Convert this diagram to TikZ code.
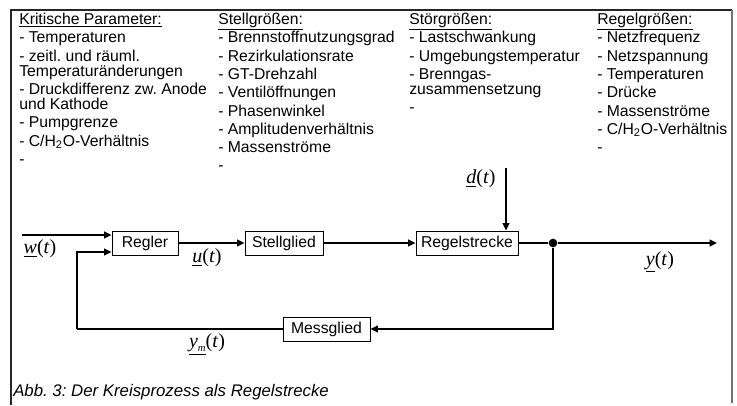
\documentclass[tikz,border=0pt]{standalone}
\usepackage{fontspec}
\setmainfont{Liberation Sans}
\newfontfamily\tms{Liberation Serif}
\usetikzlibrary{arrows.meta,calc}
\begin{document}
\frenchspacing
\begin{tikzpicture}[x=0.75pt,y=-0.75pt,
  txt/.style={anchor=base west, inner sep=0pt, font=\fontsize{11.8}{13}\selectfont},
  captxt/.style={anchor=base west, inner sep=0pt, font=\fontsize{12.6}{14}\selectfont\itshape},
  blk/.style={draw, line width=0.75pt, inner sep=0pt, minimum height=18pt, font=\fontsize{11.8}{13}\selectfont},
  sig/.style={line width=1.4pt},
  arr/.style={sig, -{Triangle[length=5.5pt,width=5pt]}},
  lab/.style={inner sep=0pt, font=\fontsize{15}{17}\tms}
]
\useasboundingbox (0,0) rectangle (737,405);
% frame
\draw[line width=1pt, black!85] (11,405) -- (11,10) -- (732,10);
\draw[line width=1.2pt, black!55] (732,10) -- (732,403);

% column 1
\node[txt] (a0) at (19,24.5) {\underline{Kritische Parameter:}};
\node[txt] (a1) at (19,42.8) {- Temperaturen};
\node[txt] (a2) at (19,61.1) {- zeitl. und räuml.};
\node[txt] (a3) at (19,76.1) {Temperaturänderungen};
\node[txt] (a4) at (19,94.4) {- Druckdifferenz zw. Anode};
\node[txt] (a5) at (19,109.4) {und Kathode};
\node[txt] (a6) at (19,127.7) {- Pumpgrenze};
\node[txt] (a7) at (19,146.0) {- C/H\textsubscript{2}O-Verhältnis};
\node[txt] (a8) at (19,164.3) {-};
% column 2
\node[txt] (b0) at (218,24.5) {\underline{Stellgrößen:}};
\node[txt] (b1) at (218,42.8) {- Brennstoffnutzungsgrad};
\node[txt] (b2) at (218,61.1) {- Rezirkulationsrate};
\node[txt] (b3) at (218,79.4) {- GT-Drehzahl};
\node[txt] (b4) at (218,97.7) {- Ventilöffnungen};
\node[txt] (b5) at (218,116.0) {- Phasenwinkel};
\node[txt] (b6) at (218,134.3) {- Amplitudenverhältnis};
\node[txt] (b7) at (218,152.6) {- Massenströme};
\node[txt] (b8) at (218,170.9) {-};
% column 3
\node[txt] (c0) at (409,24.5) {\underline{Störgrößen:}};
\node[txt] (c1) at (409,42.8) {- Lastschwankung};
\node[txt] (c2) at (409,61.1) {- Umgebungstemperatur};
\node[txt] (c3) at (409,79.4) {- Brenngas-};
\node[txt] (c4) at (409,94.4) {zusammensetzung};
\node[txt] (c5) at (409,112.7) {-};
% column 4
\node[txt] (d0) at (597,24.5) {\underline{Regelgrößen:}};
\node[txt] (d1) at (597,42.8) {- Netzfrequenz};
\node[txt] (d2) at (597,61.1) {- Netzspannung};
\node[txt] (d3) at (597,79.4) {- Temperaturen};
\node[txt] (d4) at (597,97.7) {- Drücke};
\node[txt] (d5) at (597,116.0) {- Massenströme};
\node[txt] (d6) at (597,134.3) {- C/H\textsubscript{2}O-Verhältnis};
\node[txt] (d7) at (597,152.6) {-};

% blocks
\node[blk, minimum width=49.5pt] (reg) at (145,243) {Regler};
\node[blk, minimum width=58.5pt] (stg) at (284,243) {Stellglied};
\node[blk, minimum width=76.5pt] (rs) at (467,243) {Regelstrecke};
\node[blk, minimum width=65.25pt] (mg) at (326.5,329) {Messglied};

\coordinate (win) at (22,235);
\coordinate (fb) at (77,329);
\coordinate (rin) at ($(reg.west)+(0,9)$);
\coordinate (dtop) at (506,168);
\coordinate (yout) at (717,243);
\node[circle, fill, inner sep=0pt, minimum size=6.5pt] (jn) at (553,243) {};

\draw[arr] (win) -- (win -| reg.west);
\draw[arr] (fb) |- (rin);
\draw[arr] (reg) -- (stg);
\draw[arr] (stg) -- (rs);
\draw[sig] (rs) -- (jn);
\draw[arr] (jn) -- (yout);
\draw[arr] (jn) |- (mg);
\draw[sig] (mg) -- (fb);
\draw[arr] (dtop) -- (dtop |- rs.north);

% labels
\node[lab] (lw) at (40,249) {\underline{\itshape w}(\textit{t})};
\node[lab] (lu) at (207,258) {\underline{\itshape u}(\textit{t})};
\node[lab] (ld) at (481,179) {\underline{\itshape d}(\textit{t})};
\node[lab] (ly) at (660,262) {\underline{\itshape y}(\textit{t})};
\node[lab] (lym) at (207,344) {\underline{\itshape y\raisebox{-0.5ex}{\fontsize{8}{9}\selectfont m}}(\textit{t})};

\node[captxt] (capt) at (13,396) {Abb. 3: Der Kreisprozess als Regelstrecke};
\end{tikzpicture}
\end{document}
